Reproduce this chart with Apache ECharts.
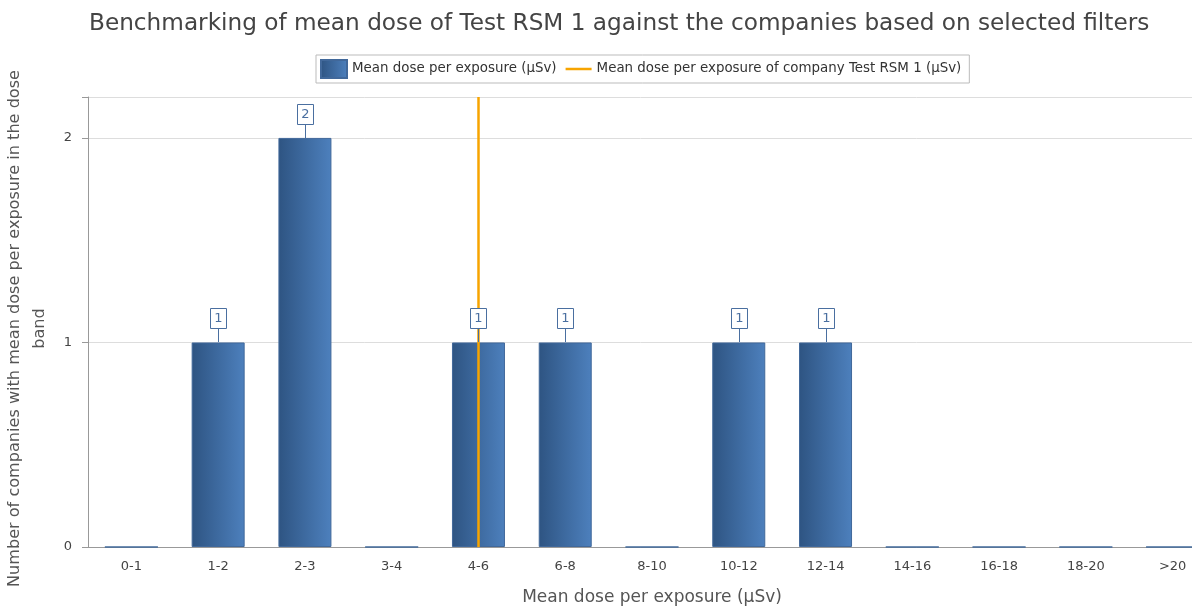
<!DOCTYPE html>
<html>
<head>
<meta charset="utf-8">
<script src="https://cdn.jsdelivr.net/npm/echarts@6/dist/echarts.min.js"></script>
<style>
html,body{margin:0;padding:0;background:#fff;}
#chart{width:1192px;height:607px;}
</style>
</head>
<body>
<div id="chart"></div>
<script>
var categories = ['0-1','1-2','2-3','3-4','4-6','6-8','8-10','10-12','12-14','14-16','16-18','18-20','>20'];
var companyCounts = [0,1,2,0,1,1,0,1,1,0,0,0,0];
var companyBand = '4-6';
var yTicks = [0,1,2];
var titleText = 'Benchmarking of mean dose of Test RSM 1 against the companies based on selected filters';
var barName = 'Mean dose per exposure (\u00B5Sv)';
var lineName = 'Mean dose per exposure of company Test RSM 1 (\u00B5Sv)';

var chart = echarts.init(document.getElementById('chart'), null, {renderer:'canvas'});
var font = 'DejaVu Sans';
var labelBlue = '#4a6fa0';
var orange = '#f7a400';
var barGradient = new echarts.graphic.LinearGradient(0,0,1,0,[
  {offset:0,color:'#2e5482'},{offset:1,color:'#4d80bd'}
]);
chart.setOption({
  animation:false,
  title:{text:titleText,left:84,top:7,textStyle:{fontFamily:font,fontSize:23.2,fontWeight:'normal',color:'#444'}},
  legend:{
    top:55,left:316,
    borderColor:'#bbb',borderWidth:1,padding:[4,8,4,4],itemGap:9,
    itemWidth:26,itemHeight:18,
    textStyle:{fontFamily:font,fontSize:13.4,color:'#333'},
    data:[
      {name:barName,icon:'rect',itemStyle:{color:barGradient}},
      {name:lineName,icon:'path://M0,0 L26,0 L26,2.5 L0,2.5 Z',itemStyle:{color:orange}}
    ]
  },
  grid:{left:88,top:97,width:1128,height:450,outerBoundsMode:'none'},
  xAxis:{
    type:'category',data:categories,
    name:'Mean dose per exposure (\u00B5Sv)',nameLocation:'middle',nameGap:42,
    nameTextStyle:{fontFamily:font,fontSize:17,color:'#555'},
    axisLine:{lineStyle:{color:'#999'}},
    axisTick:{alignWithLabel:true,length:6,lineStyle:{color:'#999'}},
    axisLabel:{fontFamily:font,fontSize:13,color:'#444',margin:13}
  },
  yAxis:{
    type:'value',min:0,max:2.2,interval:1,
    name:'Number of companies with mean dose per exposure in the dose\nband',
    nameLocation:'middle',nameGap:36,nameRotate:90,
    nameTextStyle:{fontFamily:font,fontSize:16.1,color:'#555',lineHeight:25,padding:[0,13,0,0]},
    axisLine:{show:true,lineStyle:{color:'#999'}},
    axisTick:{show:true,length:6,lineStyle:{color:'#999'}},
    axisLabel:{fontFamily:font,fontSize:13,color:'#444',margin:16,
      formatter:function(v){return yTicks.indexOf(v)>=0?String(v):'';}},
    splitLine:{lineStyle:{color:'#ddd'}}
  },
  series:[
    {
      name:barName,type:'bar',barWidth:53,z:2,
      itemStyle:{color:barGradient,borderColor:'#41689a',borderWidth:1},
      data:companyCounts
    },
    {
      name:lineName,type:'line',symbol:'none',data:[],
      lineStyle:{color:orange,width:2.5},itemStyle:{color:orange},
      markLine:{symbol:['none','none'],silent:true,z:5,label:{show:false},
        lineStyle:{color:orange,width:2.5,type:'solid'},
        data:[{xAxis:companyBand}]}
    },
    {
      name:'labels',type:'custom',z:10,silent:true,
      encode:{x:0,y:1},
      data:companyCounts.map(function(v,i){return [i,v];}),
      renderItem:function(params,api){
        var v = api.value(1);
        if(!v) return null;
        var p = api.coord([api.value(0), v]);
        var x = Math.round(p[0]) + 0.5, y = Math.round(p[1]);
        var gap = 13, w = 17, h = 21;
        return {type:'group',children:[
          {type:'line',shape:{x1:x,y1:y,x2:x,y2:y-gap},style:{stroke:labelBlue,lineWidth:1}},
          {type:'rect',shape:{x:Math.round(x-w/2)+0.5,y:y-gap-h+0.5,width:w-1,height:h-1},
            style:{fill:'#fff',stroke:labelBlue,lineWidth:1}},
          {type:'text',x:x,y:y-gap-h/2,style:{text:String(v),fill:labelBlue,font:'13px '+font,align:'center',verticalAlign:'middle'}}
        ]};
      }
    }
  ]
});
</script>
</body>
</html>
